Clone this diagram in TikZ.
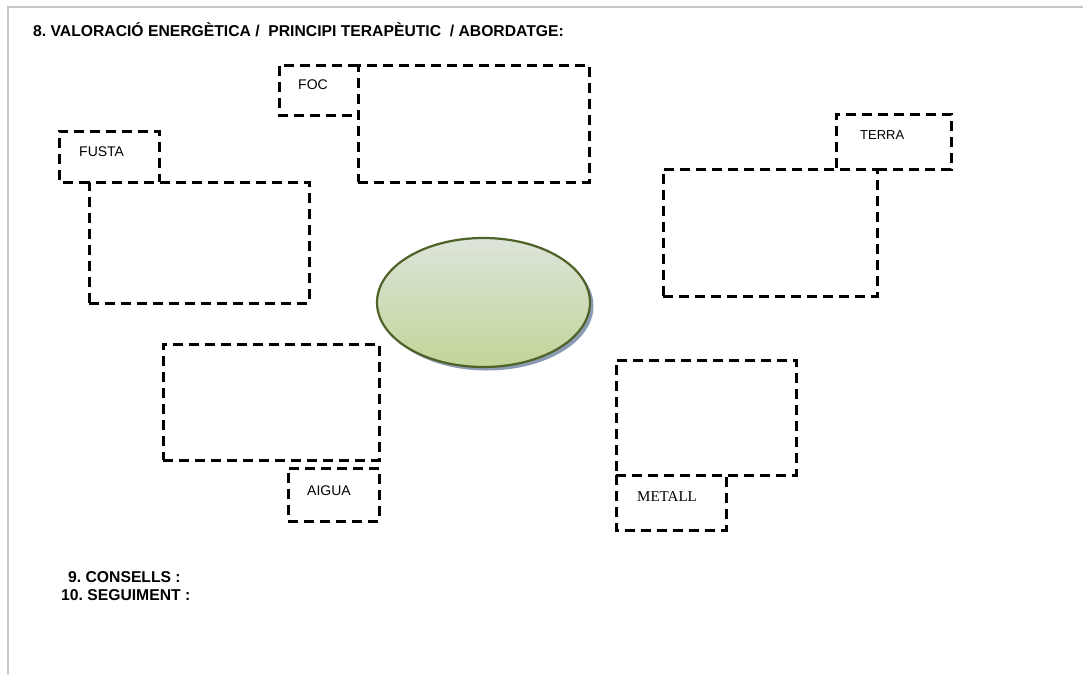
\documentclass[tikz,border=0pt]{standalone}
\usepackage{fontspec}
\setmainfont{Liberation Sans}
\newfontfamily\serifface{Liberation Serif}
\usetikzlibrary{positioning,shapes.geometric}
\definecolor{framegray}{HTML}{C8C8C8}
\definecolor{ellborder}{HTML}{4F6228}
\definecolor{elltop}{HTML}{DCE4DA}
\definecolor{ellbot}{HTML}{C2D598}
\definecolor{ellshadow}{HTML}{8C9BB4}
\tikzset{
  dashline/.style={draw=black, line width=2.5pt, dash pattern=on 10pt off 6pt},
  dbox/.style={dashline, anchor=north west, inner sep=0pt, rectangle},
  lbox/.style={draw=none, outer sep=0pt, anchor=north west, inner sep=0pt, rectangle},
  lbl/.style={font=\fontsize{14}{16}\selectfont, inner sep=0pt, anchor=west},
  heading/.style={font=\bfseries\fontsize{15.7}{18}\selectfont, inner sep=0pt, anchor=west},
}
\begin{document}
\frenchspacing
\begin{tikzpicture}[x=1pt,y=-1pt]
\useasboundingbox (0,0) rectangle (1083,675);
\fill[white] (0,0) rectangle (1083,675);
% frame
\coordinate (ftl) at (8,7);
\coordinate (ftr) at (1083,7);
\coordinate (fbl) at (8,675);
\draw[framegray, line width=2pt] (ftr) -- (ftl) -- (fbl);
% title
\node[heading] (title) at (33,30) {8. VALORACIÓ ENERGÈTICA /\ \ PRINCIPI TERAPÈUTIC\ \ / ABORDATGE:};
% big boxes
\node[dbox, minimum width=231pt, minimum height=117pt] (focbig) at (357,64) {};
\node[dbox, minimum width=220pt, minimum height=121pt] (fustabig) at (88,181) {};
\node[dbox, minimum width=214pt, minimum height=127pt] (terrabig) at (662,168) {};
\node[dbox, minimum width=216pt, minimum height=116pt] (aiguabig) at (162,343) {};
\node[dbox, minimum width=180pt, minimum height=115pt] (metallbig) at (615,359) {};
% label boxes (shared sides left to the big boxes)
\node[lbox, minimum width=79pt, minimum height=50pt] (focbox) at (279.25,65.25) {};
\node[lbox, minimum width=100pt, minimum height=51pt] (fustabox) at (59.25,131.25) {};
\node[lbox, minimum width=115pt, minimum height=55pt] (terrabox) at (836.25,114.25) {};
\node[dbox, minimum width=91pt, minimum height=53pt] (aiguabox) at (287,467) {};
\node[lbox, minimum width=110pt, minimum height=55pt] (metallbox) at (616.25,475.25) {};
\draw[dashline] (focbox.north east) -- (focbox.north west) -- (focbox.south west) -- (focbox.south east);
\draw[dashline] ([xshift=1.25pt,yshift=-1.25pt]fustabig.north west) -- (fustabox.south west) -- (fustabox.north west) -- (fustabox.north east) -- (fustabox.south east);
\draw[dashline] ([xshift=-1.25pt,yshift=-1.25pt]terrabig.north east) -- (terrabox.south east) -- (terrabox.north east) -- (terrabox.north west) -- (terrabox.south west);
\draw[dashline] (metallbox.north west) -- (metallbox.south west) -- (metallbox.south east) -- (metallbox.north east);
% labels
\node[lbl] (foc) at (298,85) {FOC};
\node[lbl] (fusta) at (79,152) {FUSTA};
\node[lbl, font=\fontsize{13}{15}\selectfont] (terra) at (860,135) {TERRA};
\node[lbl] (aigua) at (307,491) {AIGUA};
\node[lbl, font=\serifface\fontsize{15}{17}\selectfont] (metall) at (637,497) {METALL};
% central ellipse
\fill[ellshadow] (487,306) ellipse [x radius=106.5pt, y radius=64.5pt];
\node[ellipse, draw=ellborder, line width=2.2pt, top color=elltop, bottom color=ellbot, middle color=elltop!50!ellbot, minimum width=213pt, minimum height=129pt, inner sep=0pt] (centre) at (483.5,302.5) {};
% bottom headings
\node[heading] (consells) at (68,577) {9. CONSELLS :};
\node[heading] (seguiment) at (61,595) {10. SEGUIMENT :};
\end{tikzpicture}
\end{document}
